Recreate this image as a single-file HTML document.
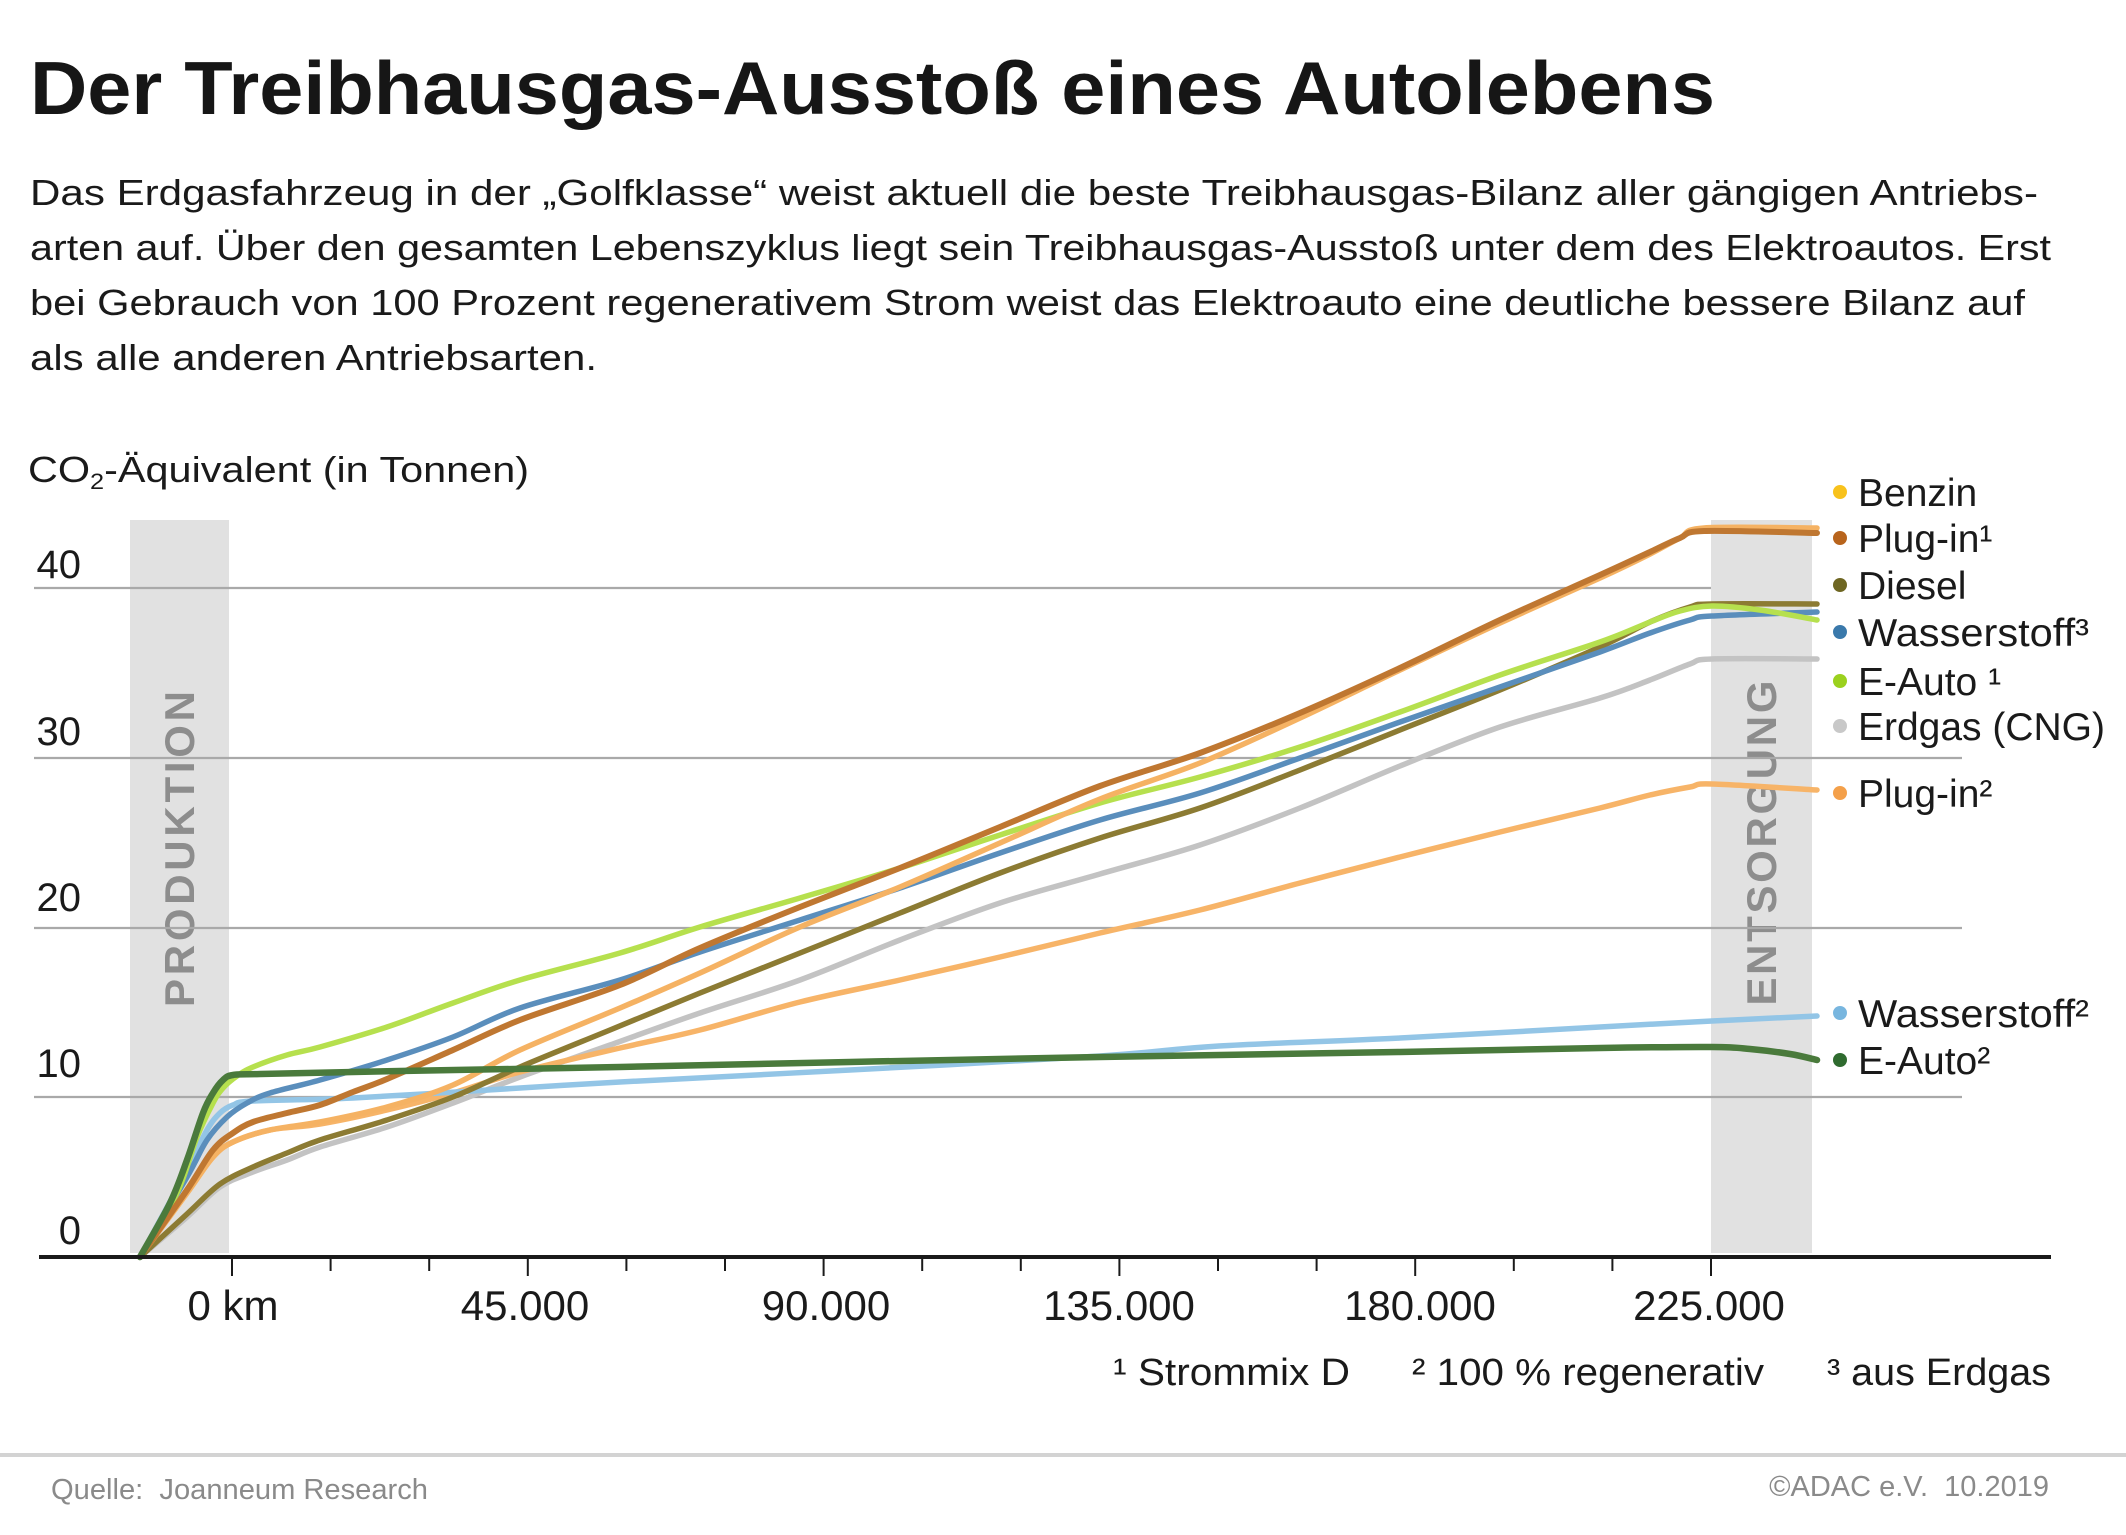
<!DOCTYPE html>
<html lang="de">
<head>
<meta charset="utf-8">
<style>
  html,body{margin:0;padding:0;background:#fff;}
  svg{display:block;}
  text{font-family:"Liberation Sans",Arial,sans-serif;}
</style>
</head>
<body>
<svg id="chart" width="2126" height="1535" viewBox="0 0 2126 1535" xmlns="http://www.w3.org/2000/svg">
  <rect x="0" y="0" width="2126" height="1535" fill="#ffffff"/>

  <!-- Title -->
  <text x="30" y="114" font-size="75" font-weight="bold" fill="#161616" textLength="1685" lengthAdjust="spacingAndGlyphs">Der Treibhausgas-Ausstoß eines Autolebens</text>

  <!-- Intro paragraph -->
  <g font-size="36" fill="#1a1a1a">
    <text x="30" y="205" textLength="2008" lengthAdjust="spacingAndGlyphs">Das Erdgasfahrzeug in der „Golfklasse“ weist aktuell die beste Treibhausgas-Bilanz aller gängigen Antriebs-</text>
    <text x="30" y="260" textLength="2021" lengthAdjust="spacingAndGlyphs">arten auf. Über den gesamten Lebenszyklus liegt sein Treibhausgas-Ausstoß unter dem des Elektroautos. Erst</text>
    <text x="30" y="315" textLength="1995" lengthAdjust="spacingAndGlyphs">bei Gebrauch von 100 Prozent regenerativem Strom weist das Elektroauto eine deutliche bessere Bilanz auf</text>
    <text x="30" y="370" textLength="567" lengthAdjust="spacingAndGlyphs">als alle anderen Antriebsarten.</text>
  </g>

  <!-- Y axis title -->
  <text x="28" y="482" font-size="36" fill="#1a1a1a" textLength="501" lengthAdjust="spacingAndGlyphs">CO<tspan font-size="22" dy="7">2</tspan><tspan dy="-7">-Äquivalent (in Tonnen)</tspan></text>

  <!-- Phase bands -->
  <rect x="130" y="520" width="99" height="733" fill="#e1e1e1"/>
  <rect x="1711" y="520" width="101" height="733" fill="#e1e1e1"/>
  <text transform="translate(194,849) rotate(-90)" text-anchor="middle" font-size="42" font-weight="bold" fill="#8d8d8d" textLength="316" lengthAdjust="spacing">PRODUKTION</text>
  <text transform="translate(1776,843) rotate(-90)" text-anchor="middle" font-size="42" font-weight="bold" fill="#8d8d8d" textLength="325" lengthAdjust="spacing">ENTSORGUNG</text>

  <!-- Gridlines -->
  <g stroke="#a9a9a9" stroke-width="2.2">
    <line x1="34" y1="588" x2="1711" y2="588"/>
    <line x1="34" y1="758" x2="1962" y2="758"/>
    <line x1="34" y1="928" x2="1962" y2="928"/>
    <line x1="34" y1="1097" x2="1962" y2="1097"/>
  </g>

  <!-- Y tick labels -->
  <g font-size="40" fill="#1a1a1a" text-anchor="end">
    <text x="81" y="578">40</text>
    <text x="81" y="745">30</text>
    <text x="81" y="911">20</text>
    <text x="81" y="1077">10</text>
    <text x="81" y="1244">0</text>
  </g>

  <!-- Series -->
  <g id="series" fill="none" stroke-linejoin="round" stroke-linecap="round">
    <!-- Erdgas (CNG) -->
    <polyline class="s" stroke="#c3c3c3" stroke-width="5.5" points="140,1257 187,1217 220,1187 253,1172 287,1160 320,1147 387,1127 453,1103 520,1077 610,1045 700,1013 800,980 900,940 1000,903 1100,874 1200,845 1300,808 1400,766 1500,727 1600,698 1650,680 1690,664 1712,659 1817,659"/>
    <!-- Plug-in 2 -->
    <polyline class="s" stroke="#f7b468" stroke-width="5.5" points="140,1257 187,1193 213,1157 233,1142 270,1130 320,1124 387,1110 453,1093 520,1072 620,1048 700,1030 800,1002 900,980 1000,957 1100,933 1200,910 1300,883 1400,857 1500,832 1600,808 1650,795 1690,787 1712,784 1817,790"/>
    <!-- Wasserstoff 2 -->
    <polyline class="s" stroke="#93c5e6" stroke-width="5.5" points="140,1257 187,1170 207,1130 220,1113 233,1105 253,1101 353,1098 520,1088 620,1082 850,1070 1100,1056 1219,1046 1400,1038 1600,1027 1712,1021 1817,1016"/>
    <!-- Diesel -->
    <polyline class="s" stroke="#8c7b33" stroke-width="5.5" points="140,1257 187,1214 220,1184 253,1167 287,1153 320,1140 387,1120 453,1097 520,1067 610,1030 700,993 800,953 900,913 1000,873 1100,838 1200,808 1300,770 1400,730 1500,690 1600,647 1650,622 1690,607 1712,604 1817,604"/>
    <!-- Wasserstoff 3 -->
    <polyline class="s" stroke="#5a8ebc" stroke-width="5.5" points="140,1257 187,1177 207,1140 227,1117 247,1103 270,1093 320,1080 387,1060 453,1037 520,1008 620,980 700,952 800,920 900,888 1000,853 1100,820 1200,793 1300,758 1400,722 1500,687 1600,652 1650,633 1690,620 1712,616 1817,612"/>
    <!-- E-Auto 1 -->
    <polyline class="s" stroke="#b6e04e" stroke-width="5.5" points="140,1257 177,1193 197,1137 213,1103 223,1088 237,1076 253,1067 287,1055 320,1047 387,1027 453,1003 520,980 620,953 700,927 800,898 900,868 1000,835 1100,803 1200,777 1300,747 1400,712 1500,675 1600,642 1650,622 1680,611 1712,606 1760,610 1817,620"/>
    <!-- Benzin -->
    <polyline class="s" stroke="#f5b263" stroke-width="5.5" points="140,1257 187,1193 213,1157 233,1142 270,1130 320,1122 387,1107 453,1085 520,1050 620,1008 700,973 800,927 900,887 1000,843 1100,799 1200,763 1300,718 1400,670 1500,623 1600,578 1650,554 1680,538 1704,528 1817,528"/>
    <!-- Plug-in 1 -->
    <polyline class="s" stroke="#bf7731" stroke-width="6" points="140,1257 187,1190 213,1150 233,1133 253,1122 287,1113 320,1105 353,1092 387,1079 453,1050 520,1020 620,985 700,948 800,907 900,868 1000,827 1100,786 1200,753 1300,713 1400,668 1500,620 1600,575 1650,552 1680,538 1704,531 1817,533"/>
    <!-- E-Auto 2 -->
    <polyline class="s" stroke="#4a7a3c" stroke-width="6.5" points="140,1257 170,1203 187,1160 203,1113 213,1093 223,1080 233,1075 260,1074 400,1071 620,1067 850,1062 1100,1057 1400,1052 1600,1048 1712,1047 1750,1049 1790,1054 1817,1060"/>
  </g>

  <!-- X axis -->
  <line x1="39" y1="1257" x2="2051" y2="1257" stroke="#1a1a1a" stroke-width="4"/>
  <g stroke="#1a1a1a" stroke-width="2">
    <line x1="232" y1="1257" x2="232" y2="1276"/>
    <line x1="330.6" y1="1257" x2="330.6" y2="1271"/>
    <line x1="429.2" y1="1257" x2="429.2" y2="1271"/>
    <line x1="527.8" y1="1257" x2="527.8" y2="1276"/>
    <line x1="626.4" y1="1257" x2="626.4" y2="1271"/>
    <line x1="725" y1="1257" x2="725" y2="1271"/>
    <line x1="823.6" y1="1257" x2="823.6" y2="1276"/>
    <line x1="922.2" y1="1257" x2="922.2" y2="1271"/>
    <line x1="1020.8" y1="1257" x2="1020.8" y2="1271"/>
    <line x1="1119.4" y1="1257" x2="1119.4" y2="1276"/>
    <line x1="1218" y1="1257" x2="1218" y2="1271"/>
    <line x1="1316.6" y1="1257" x2="1316.6" y2="1271"/>
    <line x1="1415.2" y1="1257" x2="1415.2" y2="1276"/>
    <line x1="1513.8" y1="1257" x2="1513.8" y2="1271"/>
    <line x1="1612.4" y1="1257" x2="1612.4" y2="1271"/>
    <line x1="1711" y1="1257" x2="1711" y2="1276"/>
  </g>
  <g font-size="42" fill="#1a1a1a" text-anchor="middle">
    <text x="233" y="1320">0 km</text>
    <text x="525" y="1320">45.000</text>
    <text x="826" y="1320">90.000</text>
    <text x="1119" y="1320">135.000</text>
    <text x="1420" y="1320">180.000</text>
    <text x="1709" y="1320">225.000</text>
  </g>

  <!-- Footnotes -->
  <g font-size="38" fill="#1a1a1a">
    <text x="1113" y="1385" textLength="237" lengthAdjust="spacingAndGlyphs">¹ Strommix D</text>
    <text x="1412" y="1385" textLength="352" lengthAdjust="spacingAndGlyphs">² 100 % regenerativ</text>
    <text x="1827" y="1385" textLength="224" lengthAdjust="spacingAndGlyphs">³ aus Erdgas</text>
  </g>

  <!-- Legend -->
  <g>
    <circle cx="1840" cy="492" r="7" fill="#f8c21c"/>
    <circle cx="1840" cy="538" r="7" fill="#b8641c"/>
    <circle cx="1840" cy="585" r="7" fill="#6e6622"/>
    <circle cx="1840" cy="632" r="7" fill="#3a79ab"/>
    <circle cx="1840" cy="681" r="7" fill="#9bd11e"/>
    <circle cx="1840" cy="726" r="7" fill="#c8c8c8"/>
    <circle cx="1840" cy="793" r="7" fill="#f4a04a"/>
    <circle cx="1840" cy="1013" r="7" fill="#78b6df"/>
    <circle cx="1840" cy="1060" r="7" fill="#2f6b2f"/>
  </g>
  <g font-size="39" fill="#1a1a1a">
    <text x="1858" y="506">Benzin</text>
    <text x="1858" y="552">Plug-in¹</text>
    <text x="1858" y="599">Diesel</text>
    <text x="1858" y="646" textLength="231" lengthAdjust="spacingAndGlyphs">Wasserstoff³</text>
    <text x="1858" y="695">E-Auto ¹</text>
    <text x="1858" y="740" textLength="247" lengthAdjust="spacingAndGlyphs">Erdgas (CNG)</text>
    <text x="1858" y="807">Plug-in²</text>
    <text x="1858" y="1027" textLength="231" lengthAdjust="spacingAndGlyphs">Wasserstoff²</text>
    <text x="1858" y="1074">E-Auto²</text>
  </g>

  <!-- Footer -->
  <line x1="0" y1="1455" x2="2126" y2="1455" stroke="#d3d3d3" stroke-width="4"/>
  <text x="51" y="1499" font-size="29" fill="#8a8a8a" textLength="377" lengthAdjust="spacingAndGlyphs" xml:space="preserve">Quelle:  Joanneum Research</text>
  <text x="2049" y="1496" font-size="29" fill="#8a8a8a" text-anchor="end" xml:space="preserve">©ADAC e.V.  10.2019</text>
</svg>
<script>
(function(){
  var NS = "http://www.w3.org/2000/svg";
  var lines = document.querySelectorAll("#series polyline.s");
  for (var i = 0; i < lines.length; i++) {
    var pl = lines[i];
    var raw = pl.getAttribute("points").trim().split(/\s+/);
    var p = raw.map(function(s){ var a = s.split(","); return [parseFloat(a[0]), parseFloat(a[1])]; });
    if (p.length < 3) continue;
    var d = "M" + p[0][0] + "," + p[0][1];
    for (var k = 0; k < p.length - 1; k++) {
      var p0 = p[k > 0 ? k - 1 : k], p1 = p[k], p2 = p[k + 1], p3 = p[k + 2 < p.length ? k + 2 : k + 1];
      var c1x = p1[0] + (p2[0] - p0[0]) / 6, c1y = p1[1] + (p2[1] - p0[1]) / 6;
      var c2x = p2[0] - (p3[0] - p1[0]) / 6, c2y = p2[1] - (p3[1] - p1[1]) / 6;
      d += " C" + c1x.toFixed(1) + "," + c1y.toFixed(1) + " " + c2x.toFixed(1) + "," + c2y.toFixed(1) + " " + p2[0] + "," + p2[1];
    }
    var path = document.createElementNS(NS, "path");
    path.setAttribute("d", d);
    path.setAttribute("stroke", pl.getAttribute("stroke"));
    path.setAttribute("stroke-width", pl.getAttribute("stroke-width"));
    path.setAttribute("fill", "none");
    pl.parentNode.replaceChild(path, pl);
  }
})();
</script>
</body>
</html>
